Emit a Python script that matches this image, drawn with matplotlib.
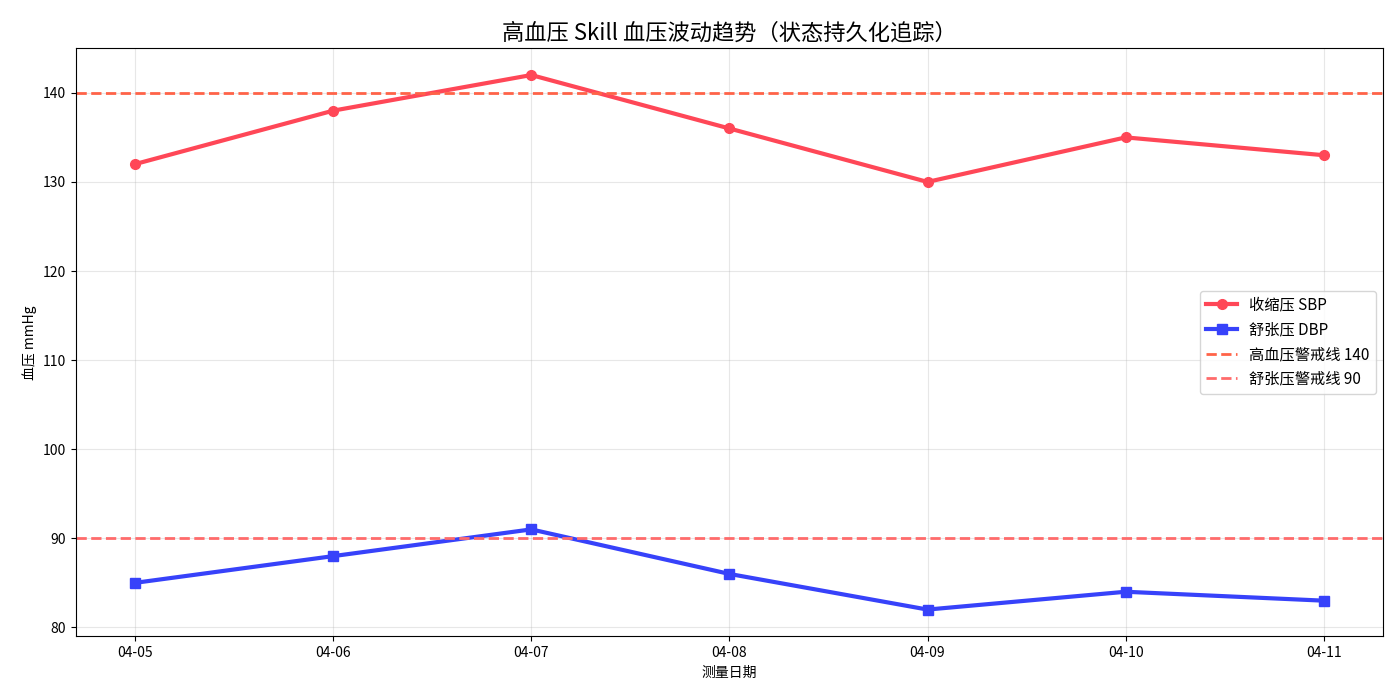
import matplotlib
matplotlib.use('Agg')
import matplotlib.pyplot as plt

plt.rcParams['font.family'] = ['Noto Sans CJK SC', 'DejaVu Sans']
plt.rcParams['axes.unicode_minus'] = False

# Blood pressure readings by date
dates = ['04-05', '04-06', '04-07', '04-08', '04-09', '04-10', '04-11']
sbp = [132, 138, 142, 136, 130, 135, 133]
dbp = [85, 88, 91, 86, 82, 84, 83]
sbp_limit = 140
dbp_limit = 90

fig, ax = plt.subplots(figsize=(14, 7), dpi=100)
ax.plot(dates, sbp, marker='o', color='#ff4757', linewidth=3, markersize=7, label='收缩压 SBP')
ax.plot(dates, dbp, marker='s', color='#3742fa', linewidth=3, markersize=7, label='舒张压 DBP')
ax.axhline(sbp_limit, color='#ff6348', linestyle='--', linewidth=2, label='高血压警戒线 140')
ax.axhline(dbp_limit, color='#ff6b6b', linestyle='--', linewidth=2, label='舒张压警戒线 90')

ax.set_title('高血压 Skill 血压波动趋势（状态持久化追踪）', fontsize=16)
ax.set_xlabel('测量日期')
ax.set_ylabel('血压 mmHg')
ax.grid(True, alpha=0.3)
ax.legend(loc='center right', fontsize=11)

fig.subplots_adjust(left=0.054, right=0.988, top=0.931, bottom=0.091)
plt.savefig('out.png')
